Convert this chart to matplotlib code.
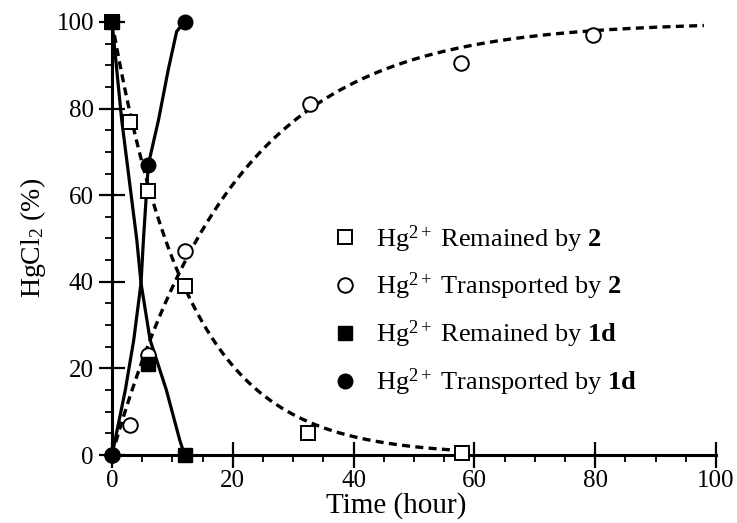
import numpy as np
import matplotlib.pyplot as plt
from matplotlib.lines import Line2D

plt.rcParams['font.family'] = ['Liberation Serif', 'DejaVu Serif']
plt.rcParams['mathtext.fontset'] = 'custom'
plt.rcParams['mathtext.rm'] = 'Liberation Serif'
plt.rcParams['mathtext.it'] = 'Liberation Serif:italic'
plt.rcParams['mathtext.bf'] = 'Liberation Serif:bold'

t_rem2 = [0, 3, 6, 12, 32.5, 58]
y_rem2 = [100, 77, 61, 39, 5, 0.5]
t_tr2 = [0, 3, 6, 12, 32.8, 57.7, 79.7]
y_tr2 = [0, 7, 23, 47, 81, 90.5, 97]
t_1d = [0, 6, 12]
y_rem1d = [100, 21, 0]
y_tr1d = [0, 67, 100]

# drawn curves
k_rem2 = 0.079   # dashed decay for 2
k_tr2 = 0.049    # dashed rise for 2
tc_rem1d = [0, 1.6, 4.1, 4.8, 6.3, 9.0, 11.2, 12]
yc_rem1d = [100, 77.4, 49.7, 39.7, 26.6, 15, 3.5, 0]
tc_tr1d = [0, 2.2, 3.6, 4.8, 5.2, 6.0, 7.7, 9.3, 10.7, 12]
yc_tr1d = [0, 15, 26.6, 39.7, 49.7, 67, 77.4, 88.9, 97.8, 100]

labels = [r'Hg$^{2+}$ Remained by $\mathbf{2}$',
          r'Hg$^{2+}$ Transported by $\mathbf{2}$',
          r'Hg$^{2+}$ Remained by $\mathbf{1d}$',
          r'Hg$^{2+}$ Transported by $\mathbf{1d}$']

fig = plt.figure(figsize=(7.37, 5.23), dpi=100)
ax = fig.add_axes([0.152, 0.130, 0.8195, 0.828])

dash = (0, (2.4, 1.6))
tt = np.linspace(0, 58, 200)
ax.plot(tt, 100 * np.exp(-k_rem2 * tt), 'k', ls=dash, lw=2.4)
tt = np.linspace(0, 98, 300)
ax.plot(tt, 100 * (1 - np.exp(-k_tr2 * tt)), 'k', ls=dash, lw=2.4)

ax.plot(tc_rem1d, yc_rem1d, 'k', lw=2.3)
ax.plot(tc_tr1d, yc_tr1d, 'k', lw=2.3)

ms = 10.5
ax.plot(t_rem2, y_rem2, 's', ms=ms, mfc='white', mec='k', mew=1.4, clip_on=False, zorder=5)
ax.plot(t_tr2, y_tr2, 'o', ms=ms, mfc='white', mec='k', mew=1.4, clip_on=False, zorder=5)
ax.plot(t_1d, y_rem1d, 's', ms=ms, color='k', clip_on=False, zorder=6)
ax.plot(t_1d, y_tr1d, 'o', ms=ms, color='k', clip_on=False, zorder=6)

handles = [
    Line2D([], [], ls='none', marker='s', ms=ms, mfc='white', mec='k', mew=1.4),
    Line2D([], [], ls='none', marker='o', ms=ms, mfc='white', mec='k', mew=1.4),
    Line2D([], [], ls='none', marker='s', ms=ms, color='k'),
    Line2D([], [], ls='none', marker='o', ms=ms, color='k'),
]
ax.legend(handles, labels, loc='upper left', bbox_to_anchor=(0.35, 0.56),
          frameon=False, fontsize=19, handlelength=0.8, handletextpad=0.8,
          labelspacing=0.62, borderaxespad=0)

ax.set_xlim(0, 100)
ax.set_ylim(0, 100)
ax.set_xticks(range(0, 101, 20))
ax.set_yticks(range(0, 101, 20))
ax.set_xticks(range(0, 101, 5), minor=True)
ax.set_yticks(range(0, 101, 5), minor=True)
ax.spines['top'].set_visible(False)
ax.spines['right'].set_visible(False)
for s in ['left', 'bottom']:
    ax.spines[s].set_linewidth(2.2)
ax.tick_params(which='major', direction='inout', length=19, width=1.6, labelsize=18)
ax.tick_params(which='minor', direction='out', length=5, width=1.3)
ax.tick_params(axis='x', which='major', pad=1)

ax.set_xlabel('Time (hour)', fontsize=21, labelpad=0, x=0.47)
ax.set_ylabel(r'HgCl$_2$ (%)', fontsize=20, labelpad=6)

fig.savefig('out.png', dpi=100)
